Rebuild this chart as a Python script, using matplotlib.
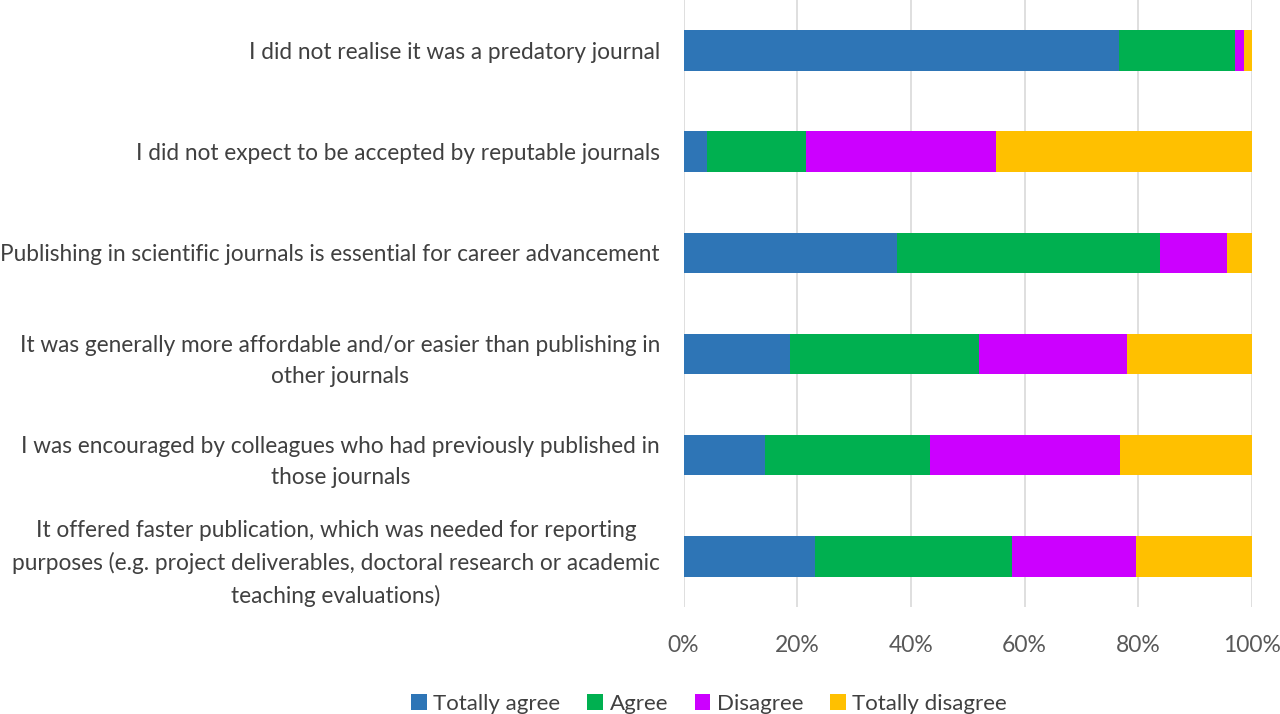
import numpy as np
import matplotlib.pyplot as plt
from matplotlib.ticker import PercentFormatter

plt.rcParams['font.family'] = ['Lato', 'DejaVu Sans']

# Survey statements (top to bottom)
statements = [
    "I did not realise it was a predatory journal",
    "I did not expect to be accepted by reputable journals",
    "Publishing in scientific journals is essential for career advancement",
    "It was generally more affordable and/or easier than publishing in\nother journals",
    "I was encouraged by colleagues who had previously published in\nthose journals",
    "It offered faster publication, which was needed for reporting\npurposes (e.g. project deliverables, doctoral research or academic\nteaching evaluations)",
]

# Share of answers per statement, in percent
totally_agree = [76.6, 4.2, 37.6, 18.7, 14.4, 23.1]
agree = [20.4, 17.3, 46.3, 33.3, 29.0, 34.7]
disagree = [1.6, 33.4, 11.8, 26.1, 33.4, 21.9]
totally_disagree = [1.4, 45.1, 4.3, 21.9, 23.2, 20.3]

series = ["Totally agree", "Agree", "Disagree", "Totally disagree"]
colors = ["#2E75B6", "#00B050", "#CC00FF", "#FFC000"]

fig = plt.figure(figsize=(12.8, 7.14), dpi=100)
ax = fig.add_axes([0.534, 0.15, 0.444, 0.85])

y = np.arange(len(statements))
left = np.zeros(len(statements))
for name, vals, col in zip(series, [totally_agree, agree, disagree, totally_disagree], colors):
    ax.barh(y, vals, left=left, height=0.4, color=col, label=name, zorder=3)
    left += np.array(vals)

ax.set_ylim(len(statements) - 0.5, -0.5)
ax.set_xlim(0, 100)
ax.set_xticks(np.arange(0, 101, 20))
ax.xaxis.set_major_formatter(PercentFormatter(decimals=0))
ax.set_yticks(y)
ax.set_yticklabels(statements, fontsize=16.3, color="#404040", linespacing=1.58)
ax.tick_params(axis='x', labelsize=16.5, labelcolor="#595959", length=0, pad=20)
ax.tick_params(axis='y', length=0, pad=17)
for lab in ax.get_yticklabels():
    lab.set_horizontalalignment('right')
    lab.set_multialignment('center')

ax.grid(axis='x', color="#D9D9D9", linewidth=1.2, zorder=0)
for s in ax.spines.values():
    s.set_visible(False)

fig.legend(loc='lower center', bbox_to_anchor=(0.554, -0.028), ncol=4, frameon=False,
           fontsize=16, handlelength=0.7, handleheight=0.7, handletextpad=0.3,
           columnspacing=1.2, labelcolor="#404040")

fig.savefig("out.png", dpi=100)
